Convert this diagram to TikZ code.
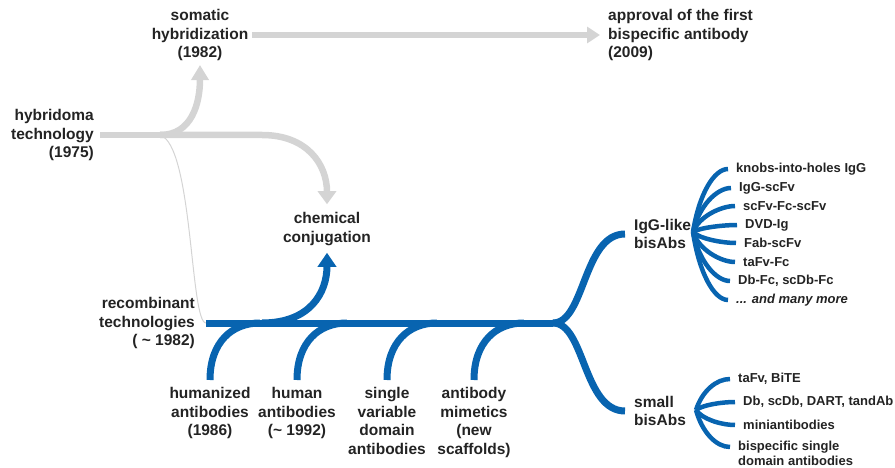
\documentclass[tikz,border=0pt]{standalone}
\usepackage{fontspec}
\setmainfont{Liberation Sans}
\usetikzlibrary{arrows.meta}
\definecolor{abblue}{RGB}{8,100,176}
\definecolor{abgrey}{RGB}{212,212,212}
\definecolor{abtext}{RGB}{35,35,35}
\tikzset{
  bigtext/.style={font=\bfseries\fontsize{15.5}{18.6}\selectfont, text=abtext, inner sep=1pt},
  smalltext/.style={font=\bfseries\fontsize{13}{15}\selectfont, text=abtext, inner sep=1pt, anchor=west},
  greyline/.style={abgrey, line width=6.5pt},
  blueline/.style={abblue, line width=7pt},
  fanline/.style={abblue, line width=4.5pt},
}
\begin{document}
\begin{tikzpicture}[x=1pt,y=-1pt]
  % Rahmen
  \useasboundingbox (0,0) rectangle (895,468);

  % Beschriftungen oben
  \node[bigtext, align=center] (somatic) at (200,35) {somatic\\hybridization\\(1982)};
  \node[bigtext, align=left, anchor=west] (approval) at (607,35) {approval of the first\\bispecific antibody\\(2009)};
  \node[bigtext, align=right, anchor=east] (hybridoma) at (95,135) {hybridoma\\technology\\(1975)};
  \node[bigtext, align=center] (chemical) at (327,229) {chemical\\conjugation};
  \node[bigtext, align=right, anchor=east] (recomb) at (196,323) {recombinant\\technologies\\( \textasciitilde{} 1982)};

  % Beschriftungen unten
  \node[bigtext, align=center, anchor=north] (humanized) at (210,386) {humanized\\antibodies\\(1986)};
  \node[bigtext, align=center, anchor=north] (human) at (297,386) {human\\antibodies\\(\textasciitilde{} 1992)};
  \node[bigtext, align=center, anchor=north] (single) at (387,386) {single\\variable\\domain\\antibodies};
  \node[bigtext, align=center, anchor=north] (mimetics) at (474,386) {antibody\\mimetics\\(new\\scaffolds)};

  % Formate rechts
  \node[bigtext, align=left, anchor=west] (igglike) at (633,234) {IgG-like\\bisAbs};
  \node[bigtext, align=left, anchor=west] (smallbis) at (633,411) {small\\bisAbs};

  % Koordinaten
  \coordinate (hfork) at (160,135);
  \coordinate (cbranch) at (262,323);
  \coordinate (j1) at (260,323);
  \coordinate (j2) at (347,323);
  \coordinate (j3) at (437,323);
  \coordinate (j4) at (524,323);
  \coordinate (split) at (553,323);
  \coordinate (iggroot) at (693,232);
  \coordinate (smallroot) at (696,410);

  % graue Pfeile (Hybridom)
  \draw[greyline, -{Triangle[length=13pt,width=16pt]}] ([xshift=3pt]somatic.east) -- ([xshift=-7pt]approval.west);
  \draw[abgrey, line width=1pt] (hfork) .. controls +(33,10) and +(-16,0) .. ([xshift=10pt]recomb.east);
  \draw[greyline] ([xshift=5pt]hybridoma.east) -- (hfork);
  \draw[greyline, -{Triangle[length=15pt,width=17pt]}] (hfork) .. controls +(32,0) and +(0,38) .. ([yshift=-3pt]somatic.south);
  \draw[greyline, -{Triangle[length=13pt,width=18pt]}] (hfork) -- ++(102,0) .. controls +(45,0) and +(0,-40) .. ([yshift=7pt]chemical.north);

  % blaue Hauptlinie
  \draw[blueline] ([xshift=10pt]recomb.east) -- (split);
  \draw[blueline, -{Triangle[length=14pt,width=18pt]}] (cbranch) .. controls +(48,0) and +(0,40) .. ([yshift=-6pt]chemical.south);
  \draw[blueline] ([yshift=6pt]humanized.north) .. controls +(0,-38) and +(-28,0) .. (j1);
  \draw[blueline] ([yshift=6pt]human.north) .. controls +(0,-38) and +(-28,0) .. (j2);
  \draw[blueline] ([yshift=6pt]single.north) .. controls +(0,-38) and +(-28,0) .. (j3);
  \draw[blueline] ([yshift=6pt]mimetics.north) .. controls +(0,-38) and +(-28,0) .. (j4);
  \draw[blueline] (split) .. controls +(32,0) and +(-42,0) .. ([xshift=-8pt]igglike.west);
  \draw[blueline] (split) .. controls +(32,0) and +(-42,0) .. ([xshift=-8pt]smallbis.west);

  % Faecher IgG-like
  \foreach \name/\xx/\yy/\txt in {knobs/735/169/knobs-into-holes IgG, iggscfv/738/188/IgG-scFv,
      scfvfc/742/206/scFv-Fc-scFv, dvdig/744/225/DVD-Ig, fabscfv/743/243/Fab-scFv,
      tafvfc/742/262/taFv-Fc, dbfc/737/281/{Db-Fc, scDb-Fc}, more/735/300/{\itshape ... and many more}}
  {
    \node[smalltext] (\name) at (\xx,\yy) {\txt};
    \draw[fanline] (iggroot) .. controls +(6,{0.6*(\yy-232)}) and +(-14,0) .. ([xshift=-7pt]\name.west);
  }

  % Faecher small
  \foreach \name/\xx/\yy/\txt in {tafv/737/379/{taFv, BiTE}, dbscdb/742/402/{Db, scDb, DART, tandAb},
      mini/742/425/miniantibodies}
  {
    \node[smalltext] (\name) at (\xx,\yy) {\txt};
    \draw[fanline] (smallroot) .. controls +(6,{0.6*(\yy-410)}) and +(-14,0) .. ([xshift=-7pt]\name.west);
  }
  \node[smalltext, align=left, anchor=north west] (bispec) at (737,440) {bispecific single\\domain antibodies};
  \draw[fanline] (smallroot) .. controls +(6,22) and +(-14,0) .. ([xshift=-7pt,yshift=-7pt]bispec.north west);
\end{tikzpicture}
\end{document}
